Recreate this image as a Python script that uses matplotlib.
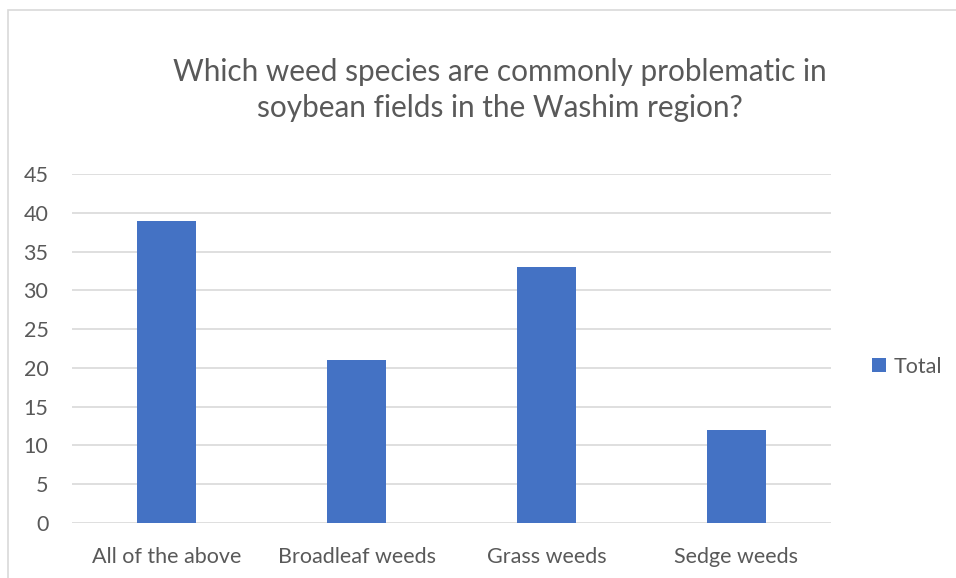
import matplotlib.pyplot as plt
from matplotlib.patches import Rectangle

categories = ["All of the above", "Broadleaf weeds", "Grass weeds", "Sedge weeds"]
totals = [39, 21, 33, 12]
yticks = list(range(0, 50, 5))

bar_color = "#4472C4"
text_color = "#595959"
grid_color = "#D9D9D9"

plt.rcParams['font.family'] = ['Lato', 'DejaVu Sans']

fig = plt.figure(figsize=(9.56, 5.78), dpi=100)
ax = fig.add_axes([0.0753, 0.0952, 0.794, 0.6038])

xs = range(len(categories))
ax.bar(xs, totals, width=0.31, color=bar_color, label="Total", zorder=3)

ax.set_xlim(-0.5, len(categories) - 0.5)
ax.set_ylim(0, 45)
ax.set_yticks(yticks)
ax.set_xticks(list(xs))
ax.set_xticklabels(categories)
ax.grid(axis='y', color=grid_color, linewidth=1.2, zorder=0)
ax.tick_params(length=0, labelsize=15.5, colors=text_color)
ax.tick_params(axis='y', pad=17)
ax.tick_params(axis='x', pad=17)
for s in ax.spines.values():
    s.set_visible(False)

fig.text(0.523, 0.875, "Which weed species are commonly problematic in",
         ha='center', va='center', fontsize=21.4, color=text_color)
fig.text(0.523, 0.813, "soybean fields in the Washim region?",
         ha='center', va='center', fontsize=21.4, color=text_color)

ax.legend(loc='center left', bbox_to_anchor=(1.028, 0.448), frameon=False,
          fontsize=15.5, labelcolor=text_color, handlelength=0.65,
          handleheight=0.65, handletextpad=0.35)

# chart frame
fig.add_artist(Rectangle((8 / 956, -0.1), 1.2, 1.1 - 9.5 / 578,
                         transform=fig.transFigure, fill=False,
                         edgecolor=grid_color, linewidth=1.2))

fig.savefig("out.png", dpi=100)
